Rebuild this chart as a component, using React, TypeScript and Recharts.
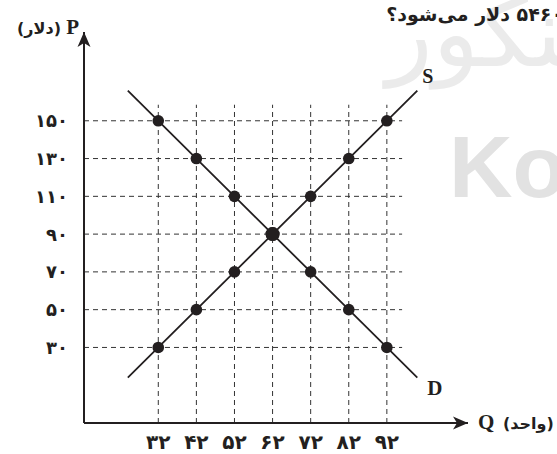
import {
  ComposedChart,
  Line,
  XAxis,
  YAxis,
  ReferenceLine,
  ReferenceDot,
} from "recharts";

// marked points (Q, price)
const quantities = [32, 42, 52, 62, 72, 82, 92];
const supplyPrices = [30, 50, 70, 90, 110, 130, 150];
const demandPrices = [150, 130, 110, 90, 70, 50, 30];

// both lines run a bit past the first and last marked point
const lineEndQ = [24, 100];
const supplyEndP = [14, 166];
const demandEndP = [166, 14];

const xTickLabels = ["۳۲", "۴۲", "۵۲", "۶۲", "۷۲", "۸۲", "۹۲"];
const priceTicks = [30, 50, 70, 90, 110, 130, 150];
const yTickLabels = ["۳۰", "۵۰", "۷۰", "۹۰", "۱۱۰", "۱۳۰", "۱۵۰"];

const Q_MIN = 12.5;
const Q_MAX = 113.3;
const P_MIN = -10;
const P_MAX = 197;
const GRID_Q_END = 96;
const GRID_P_TOP = 158.5;

const INK = "#231f20";
const FA = "'DejaVu Sans', sans-serif";
const SERIF = "'Liberation Serif', serif";

const rows = [
  { q: lineEndQ[0], s: supplyEndP[0], d: demandEndP[0], mark: false },
  ...quantities.map((q, i) => ({
    q,
    s: supplyPrices[i],
    d: demandPrices[i],
    mark: true,
  })),
  { q: lineEndQ[1], s: supplyEndP[1], d: demandEndP[1], mark: false },
];

const renderDot = (props: any) => {
  const { cx, cy, payload, index } = props;
  if (!payload.mark) return <g key={index} />;
  const r = payload.q === 62 ? 7 : 5.8;
  return <circle key={index} cx={cx} cy={cy} r={r} fill={INK} />;
};

export default function App() {
  return (
    <div
      style={{
        position: "absolute",
        left: 0,
        top: 0,
        width: 557,
        height: 454,
        overflow: "hidden",
        background: "#fff",
      }}
    >
      {/* watermark behind the chart */}
      <svg
        width={557}
        height={454}
        style={{ position: "absolute", left: 0, top: 0 }}
      >
        <text
          x={610}
          y={66}
          direction="rtl"
          textAnchor="start"
          fontFamily={FA}
          fontSize={96}
          fill="#ebebeb"
        >
          کنکور
        </text>
        <text
          x={449}
          y={197}
          fontFamily="'Liberation Sans', sans-serif"
          fontWeight="bold"
          fontSize={88}
          fill="#e2e2e2"
        >
          Ko
        </text>
      </svg>
      {/* cut-off question text */}
      <div
        dir="rtl"
        style={{
          position: "absolute",
          top: 2,
          right: -6,
          whiteSpace: "nowrap",
          fontFamily: FA,
          fontWeight: "bold",
          fontSize: 19,
          color: INK,
          lineHeight: "24px",
        }}
      >
        ۵۴۶۰ دلار می‌شود؟
      </div>

      <div style={{ position: "absolute", left: 0, top: 0 }}>
        <ComposedChart
          width={557}
          height={454}
          data={rows}
          margin={{ top: 32, right: 89, left: 24, bottom: 6 }}
        >
          <XAxis
            dataKey="q"
            type="number"
            domain={[Q_MIN, Q_MAX]}
            ticks={quantities}
            tickFormatter={(v: number) => xTickLabels[quantities.indexOf(v)]}
            height={25}
            tickLine={false}
            tickSize={0}
            tickMargin={12}
            axisLine={{ stroke: INK, strokeWidth: 2 }}
            tick={{ fill: INK, fontFamily: FA, fontWeight: "bold", fontSize: 20 }}
          />
          <YAxis
            type="number"
            domain={[P_MIN, P_MAX]}
            ticks={priceTicks}
            tickFormatter={(v: number) => yTickLabels[priceTicks.indexOf(v)]}
            width={60}
            tickLine={false}
            tickSize={0}
            tickMargin={16}
            axisLine={{ stroke: INK, strokeWidth: 2 }}
            tick={{ fill: INK, fontFamily: FA, fontWeight: "bold", fontSize: 18 }}
          />

          {priceTicks.map((p) => (
            <ReferenceLine
              key={"h" + p}
              segment={[
                { x: Q_MIN, y: p },
                { x: GRID_Q_END, y: p },
              ]}
              stroke="#333"
              strokeDasharray="5 4"
              strokeWidth={1}
            />
          ))}
          {quantities.map((q) => (
            <ReferenceLine
              key={"v" + q}
              segment={[
                { x: q, y: P_MIN },
                { x: q, y: GRID_P_TOP },
              ]}
              stroke="#333"
              strokeDasharray="5 4"
              strokeWidth={1}
            />
          ))}

          <Line
            dataKey="s"
            type="linear"
            stroke={INK}
            strokeWidth={1.8}
            dot={renderDot}
            activeDot={false}
            isAnimationActive={false}
          />
          <Line
            dataKey="d"
            type="linear"
            stroke={INK}
            strokeWidth={1.8}
            dot={renderDot}
            activeDot={false}
            isAnimationActive={false}
          />

          {/* axis arrow heads and names */}
          <ReferenceDot
            x={Q_MAX}
            y={P_MIN}
            ifOverflow="visible"
            shape={(p: any) => (
              <g>
                <path
                  d={`M${p.cx},${p.cy} L${p.cx - 15},${p.cy - 6.5} L${p.cx - 11},${p.cy} L${p.cx - 15},${p.cy + 6.5} Z`}
                  fill={INK}
                />
                <text x={p.cx + 10} y={p.cy + 6} fontFamily={SERIF} fontWeight="bold" fontSize={21} fill={INK}>
                  Q
                </text>
                <text x={p.cx + 35} y={p.cy + 6} fontFamily={FA} fontWeight="bold" fontSize={16} fill={INK}>
                  (واحد)
                </text>
              </g>
            )}
          />
          <ReferenceDot
            x={Q_MIN}
            y={P_MAX}
            ifOverflow="visible"
            shape={(p: any) => (
              <g>
                <path
                  d={`M${p.cx},${p.cy} L${p.cx - 6.5},${p.cy + 15} L${p.cx},${p.cy + 11} L${p.cx + 6.5},${p.cy + 15} Z`}
                  fill={INK}
                />
                <text x={p.cx - 5} y={p.cy + 2} textAnchor="end" fontFamily={SERIF} fontWeight="bold" fontSize={21} fill={INK}>
                  P
                </text>
                <text x={p.cx - 23} y={p.cy + 2} textAnchor="end" fontFamily={FA} fontWeight="bold" fontSize={16} fill={INK}>
                  (دلار)
                </text>
              </g>
            )}
          />

          {/* curve names at the upper / lower line ends */}
          <ReferenceDot
            x={lineEndQ[1]}
            y={supplyEndP[1]}
            ifOverflow="visible"
            shape={(p: any) => (
              <text x={p.cx + 5} y={p.cy - 8} fontFamily={SERIF} fontWeight="bold" fontSize={20} fill={INK}>
                S
              </text>
            )}
          />
          <ReferenceDot
            x={lineEndQ[1]}
            y={demandEndP[1]}
            ifOverflow="visible"
            shape={(p: any) => (
              <text x={p.cx + 10} y={p.cy + 17} fontFamily={SERIF} fontWeight="bold" fontSize={21} fill={INK}>
                D
              </text>
            )}
          />
        </ComposedChart>
      </div>
    </div>
  );
}
